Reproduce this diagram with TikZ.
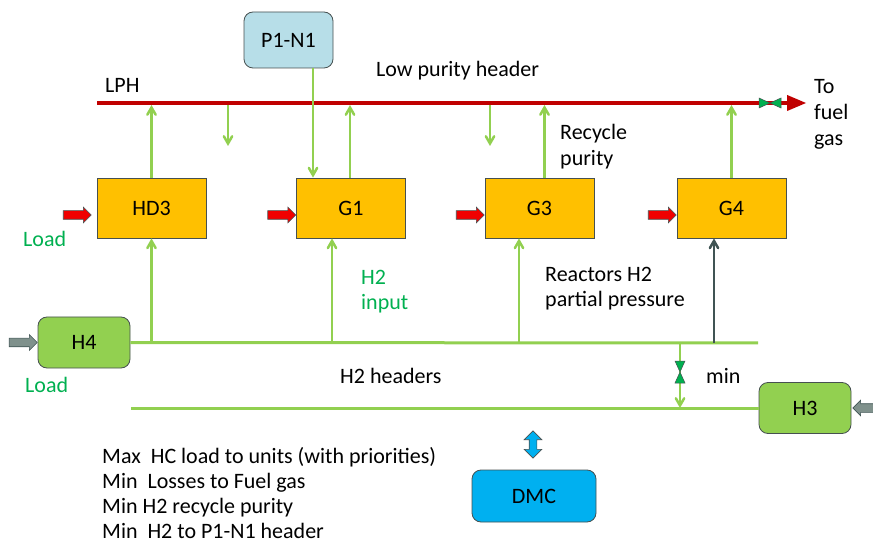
\documentclass[tikz,border=0pt]{standalone}
\usepackage{fontspec}
\setmainfont{Carlito}
\usepackage{xcolor}
\usepackage{tikz}
\usetikzlibrary{shapes.geometric, shapes.arrows, arrows, positioning}
\definecolor{unitorange}{RGB}{255, 192, 0}
\definecolor{hdrgreen}{RGB}{146, 208, 80}
\definecolor{txtgreen}{RGB}{0, 176, 80}
\definecolor{lphred}{RGB}{192, 0, 0}
\definecolor{loadred}{RGB}{240, 0, 0}
\definecolor{pnblue}{RGB}{183, 222, 232}
\definecolor{dmcblue}{RGB}{0, 176, 240}
\definecolor{edgegray}{RGB}{70, 80, 80}
\definecolor{feedgray}{RGB}{127, 145, 140}
\definecolor{slategray}{RGB}{64, 84, 84}

\tikzset{bowtie/.pic={
    \draw[draw=edgegray, fill=txtgreen, line width=0.5pt] (-11,-5) -- (-11,5) -- (11,-5) -- (11,5) -- cycle;
}}

\begin{document}
\begin{tikzpicture}[
    x=1pt, y=-1pt,
    font=\fontsize{22}{25}\selectfont,
    unit/.style={rectangle, draw=edgegray, fill=unitorange, line width=0.8pt, minimum width=109pt, minimum height=60pt},
    supply/.style={rectangle, rounded corners=9pt, draw=edgegray, fill=hdrgreen, line width=0.8pt, minimum width=92pt, minimum height=51pt},
    pnbox/.style={rectangle, rounded corners=9pt, draw=edgegray, fill=pnblue, line width=0.8pt, minimum width=89pt, minimum height=56pt},
    ctrlbox/.style={rectangle, rounded corners=9pt, draw=edgegray, fill=dmcblue, line width=0.8pt, minimum width=124pt, minimum height=52pt},
    loadarrow/.style={single arrow, draw=edgegray, fill=loadred, line width=0.6pt, inner xsep=11.5pt, inner ysep=4pt, single arrow head extend=3.5pt, single arrow head indent=0pt},
    feedarrow/.style={single arrow, draw=slategray, fill=feedgray, line width=0.6pt, inner xsep=11.5pt, inner ysep=4pt, single arrow head extend=3.5pt, single arrow head indent=0pt},
    linkarrow/.style={double arrow, draw=edgegray, fill=dmcblue, line width=0.6pt, rotate=90, inner xsep=9.5pt, inner ysep=3.5pt, double arrow head extend=5pt},
    txt/.style={inner sep=0pt, anchor=base west},
    notes/.style={inner sep=0pt, anchor=north west, align=left},
    flow/.style={->, >=angle 60, draw=hdrgreen, line width=2.5pt},
    ctl/.style={->, >=angle 60, draw=slategray, line width=2.5pt},
    hdr/.style={draw=hdrgreen, line width=3pt},
    lph/.style={-triangle 45, draw=lphred, line width=3.5pt}
]
    \useasboundingbox (0,0) rectangle (873,545);

    \node[pnbox] (p1n1) at (288.5,40) {P1-N1};
    \node[unit] (hd3) at (151.5,208) {HD3};
    \node[unit] (g1) at (351,208) {G1};
    \node[unit] (g3) at (539.5,208) {G3};
    \node[unit] (g4) at (731.5,208) {G4};
    \node[supply] (h4) at (84,342.5) {H4};
    \node[supply] (h3) at (805,408) {H3};
    \node[ctrlbox] (dmc) at (534,496) {DMC};

    \node[loadarrow, anchor=tip] (ldhd3) at ([xshift=-5pt, yshift=-7pt]hd3.west) {};
    \node[loadarrow, anchor=tip] (ldg1) at ([yshift=-7pt]g1.west) {};
    \node[loadarrow, anchor=tip] (ldg3) at ([yshift=-7pt]g3.west) {};
    \node[loadarrow, anchor=tip] (ldg4) at ([yshift=-7pt]g4.west) {};
    \node[feedarrow, anchor=tip] (fdh4) at (h4.west) {};
    \node[feedarrow, anchor=tip, rotate=180] (fdh3) at ([xshift=1pt]h3.east) {};
    \node[linkarrow] (link) at (533,444.5) {};

    \coordinate (lphW) at (97,103);
    \coordinate (lphE) at (806,103);
    \coordinate (lphS) at (97,105);
    \coordinate (hdrA) at (758,343);
    \coordinate (hdrB) at (131,408);
    \coordinate (mintap) at (680,343);
    \coordinate (drop1) at (228,146);
    \coordinate (drop3) at (490,146);

    % low purity header
    \draw[flow] (hd3.north) -- (hd3.north |- lphS);
    \draw[flow] (drop1 |- lphW) -- (drop1);
    \draw[flow] ([xshift=-1pt]g1.north) -- ([xshift=-1pt]g1.north |- lphS);
    \draw[flow] (drop3 |- lphW) -- (drop3);
    \draw[flow] ([xshift=5pt]g3.north) -- ([xshift=5pt]g3.north |- lphS);
    \draw[flow] (g4.north) -- (g4.north |- lphS);
    \draw[lph] (lphW) -- (lphE);
    \pic at (770,103) {bowtie};
    \draw[flow] ([xshift=24.5pt]p1n1.south) -- ([xshift=24.5pt]p1n1.south |- g1.north);

    % H2 headers
    \draw[hdr] (h4.east) -- (hdrA);
    \draw[hdr] (hdrB) -- (h3.west);
    \draw[flow] (hd3.south |- hdrA) -- (hd3.south);
    \draw[flow] ([xshift=-19pt]g1.south |- hdrA) -- ([xshift=-19pt]g1.south);
    \draw[flow] ([xshift=-20.5pt]g3.south |- hdrA) -- ([xshift=-20.5pt]g3.south);
    \draw[ctl] ([xshift=-17.5pt]g4.south |- hdrA) -- ([xshift=-17.5pt]g4.south);
    \draw[flow] (mintap) -- (mintap |- hdrB);
    \pic[rotate=90] at (680,372) {bowtie};

    \node[txt] (lphlbl) at (105,93) {LPH};
    \node[txt] (lphname) at (376,77) {Low purity header};
    \node[notes] (fuel) at (814,79) {To\\[1pt]fuel\\[1pt]gas};
    \node[notes] (recyc) at (560,124) {Recycle\\[1pt]purity};
    \node[notes, text=txtgreen] (h2in) at (361,270) {H2\\input};
    \node[notes] (ppress) at (545,267) {Reactors H2\\partial pressure};
    \node[txt, text=txtgreen] (load1) at (23,247) {Load};
    \node[txt, text=txtgreen] (load2) at (25,392) {Load};
    \node[txt] (hdrlbl) at (340,384) {H2 headers};
    \node[txt] (minlbl) at (706,383) {min};
    \node[notes] (goals) at (102,447) {Max\ \ HC load to units (with priorities)\\Min\ \ Losses to Fuel gas\\Min H2 recycle purity\\Min\ \ H2 to P1-N1 header};
\end{tikzpicture}
\end{document}
